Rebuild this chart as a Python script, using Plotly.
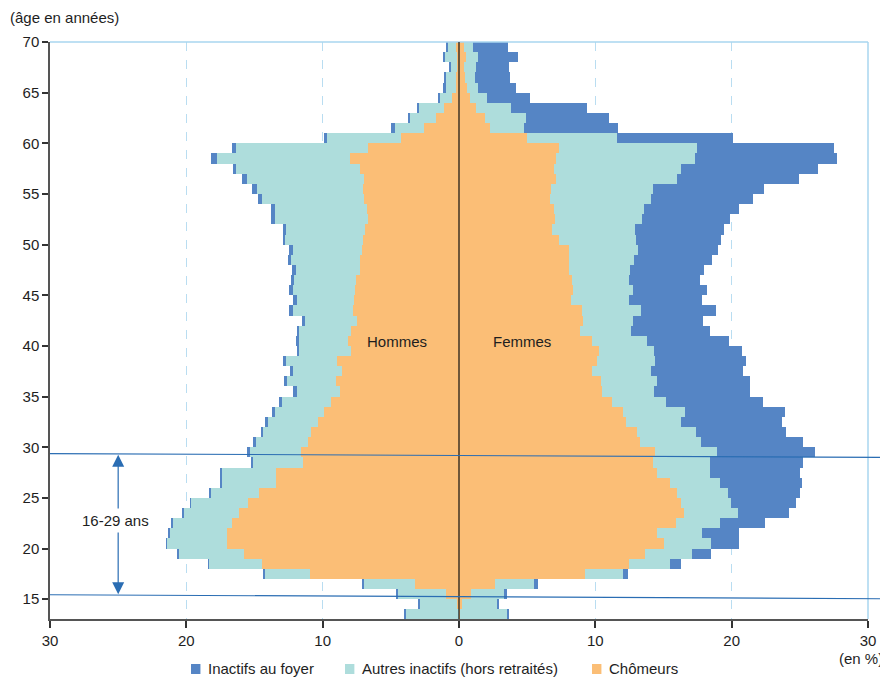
import plotly.graph_objects as go

# Ages (lower edge of each one-year bar), from 13 to 69
ages = list(range(13, 70))

# Hommes (% of age group)
h_chomeurs = [0.00, 0.15, 0.95, 3.23, 10.93, 14.45, 15.77, 17.02, 17.02, 16.65,
              16.14, 15.48, 14.67, 13.42, 13.42, 11.44, 11.59, 11.08, 10.86, 10.34,
              9.90, 9.39, 8.73, 9.02, 8.58, 8.95, 7.92, 8.14, 7.92, 7.48,
              7.78, 7.70, 7.63, 7.55, 7.26, 7.26, 7.11, 7.04, 6.90, 6.67,
              6.75, 6.97, 7.04, 6.97, 7.26, 8.00, 6.67, 4.25, 2.57, 1.69,
              1.10, 0.51, 0.22, 0.22, 0.17, 0.17, 0.22]
h_autres = [3.94, 2.76, 3.55, 3.77, 3.37, 3.89, 4.77, 4.40, 4.25, 4.40,
            4.10, 4.18, 3.52, 3.96, 3.96, 3.67, 3.74, 3.81, 3.52, 3.67,
            3.60, 3.59, 3.15, 3.60, 3.60, 3.74, 3.82, 3.60, 3.82, 3.82,
            4.40, 4.18, 4.55, 4.55, 4.70, 5.06, 5.07, 5.72, 5.79, 6.83,
            6.75, 7.48, 7.78, 8.58, 9.10, 9.75, 9.69, 5.43, 2.12, 1.90,
            1.83, 0.88, 0.73, 0.73, 0.39, 0.86, 0.59]
h_foyer = [0.05, 0.05, 0.05, 0.05, 0.10, 0.07, 0.14, 0.07, 0.07, 0.07,
           0.08, 0.07, 0.15, 0.15, 0.15, 0.15, 0.22, 0.22, 0.14, 0.22,
           0.22, 0.22, 0.30, 0.22, 0.22, 0.22, 0.14, 0.22, 0.14, 0.22,
           0.29, 0.30, 0.29, 0.22, 0.29, 0.22, 0.29, 0.15, 0.22, 0.29,
           0.29, 0.29, 0.36, 0.37, 0.22, 0.44, 0.29, 0.22, 0.30, 0.18,
           0.15, 0.17, 0.22, 0.15, 0.17, 0.14, 0.14]

# Femmes (% of age group)
f_chomeurs = [0.05, 0.22, 0.88, 2.64, 9.24, 12.47, 13.64, 15.04, 14.52, 15.92,
              16.50, 16.28, 16.00, 15.48, 14.52, 14.23, 14.38, 13.28, 13.06, 12.25,
              12.03, 11.22, 10.49, 10.42, 9.76, 10.12, 10.27, 9.76, 8.88, 9.10,
              9.02, 8.22, 8.36, 8.29, 8.07, 8.07, 8.07, 7.33, 6.82, 7.04,
              6.97, 6.67, 6.75, 7.11, 6.97, 7.11, 7.33, 4.99, 2.27, 1.91,
              1.25, 0.81, 0.59, 0.44, 0.37, 0.51, 0.37]
f_autres = [3.54, 2.57, 2.42, 2.86, 2.79, 3.01, 3.45, 3.44, 3.30, 3.22,
            3.96, 3.67, 3.73, 3.66, 3.89, 4.18, 4.54, 4.47, 4.32, 4.03,
            4.55, 3.96, 3.81, 4.10, 4.32, 4.26, 4.03, 4.03, 3.74, 3.66,
            4.33, 4.25, 4.40, 4.18, 4.47, 4.77, 5.06, 5.65, 6.09, 6.38,
            6.60, 7.41, 7.48, 8.88, 9.31, 10.20, 10.13, 6.60, 2.50, 3.00,
            2.56, 1.24, 0.80, 0.73, 0.88, 0.88, 0.66]
f_foyer = [0.03, 0.14, 0.22, 0.29, 0.37, 0.80, 1.39, 2.06, 2.72, 3.30,
           3.75, 4.77, 5.28, 6.02, 6.60, 6.82, 7.19, 7.48, 6.61, 7.41,
           7.33, 7.12, 7.04, 6.82, 6.75, 6.67, 6.46, 6.01, 5.79, 5.14,
           5.50, 5.35, 5.43, 5.21, 5.43, 5.72, 5.87, 6.24, 6.53, 6.46,
           6.97, 7.48, 8.14, 8.95, 10.05, 10.42, 10.04, 8.51, 6.89, 6.09,
           5.58, 3.16, 2.79, 2.57, 2.42, 2.94, 2.56]

x_ticks = [-30, -20, -10, 0, 10, 20, 30]
x_ticktext = ["30", "20", "10", "0", "10", "20", "30"]
y_ticks = [15, 20, 25, 30, 35, 40, 45, 50, 55, 60, 65, 70]

legend_names = ["Inactifs au foyer", "Autres inactifs (hors retraités)", "Chômeurs"]

C_FOYER = "#5585c5"
C_AUTRES = "#aedddc"
C_CHOM = "#fbbe76"
FONT = "Liberation Sans Narrow, Liberation Sans, Arial, sans-serif"
TXT = "#1e1e1e"

fig = go.Figure()

series = [
    ("Chômeurs", C_CHOM, h_chomeurs, f_chomeurs),
    ("Autres inactifs (hors retraités)", C_AUTRES, h_autres, f_autres),
    ("Inactifs au foyer", C_FOYER, h_foyer, f_foyer),
]

for name, color, hv, fv in series:
    fig.add_trace(go.Bar(
        y=ages, x=[-v for v in hv], orientation="h", name=name,
        marker=dict(color=color, line=dict(width=0)),
        width=1, offset=0, showlegend=False, hoverinfo="skip"))
    fig.add_trace(go.Bar(
        y=ages, x=fv, orientation="h", name=name,
        marker=dict(color=color, line=dict(width=0)),
        width=1, offset=0, showlegend=False, hoverinfo="skip"))

line_col = "#2a6db3"
shapes = [
    dict(type="line", xref="paper", yref="paper", x0=0, x1=1, y0=1, y1=1,
         line=dict(color="#a9d6ef", width=1.5), layer="above"),
    dict(type="line", xref="paper", yref="paper", x0=1, x1=1, y0=0, y1=1,
         line=dict(color="#a9d6ef", width=1.5), layer="above"),
    dict(type="line", xref="x", yref="paper", x0=0, x1=0, y0=0, y1=1,
         line=dict(color="#111111", width=1.2), layer="above"),
    dict(type="line", xref="paper", yref="y", x0=0, x1=1.026, y0=29.37, y1=29.0,
         line=dict(color=line_col, width=1.1), layer="above"),
    dict(type="line", xref="paper", yref="y", x0=0, x1=1.026, y0=15.45, y1=15.05,
         line=dict(color=line_col, width=1.1), layer="above"),
]

annotations = [
    dict(x=-25, y=29.25, ax=-25, ay=22.7, xref="x", yref="y", axref="x", ayref="y",
         text="", showarrow=True, arrowhead=2, arrowsize=2, arrowwidth=1.2,
         arrowcolor=line_col),
    dict(x=-25, y=15.5, ax=-25, ay=22.7, xref="x", yref="y", axref="x", ayref="y",
         text="", showarrow=True, arrowhead=2, arrowsize=2, arrowwidth=1.2,
         arrowcolor=line_col),
    dict(x=-25.2, y=22.75, xref="x", yref="y", text="16-29 ans", showarrow=False,
         bgcolor="white", font=dict(size=15, color=TXT), borderpad=3),
    dict(x=-4.55, y=40.4, xref="x", yref="y", text="Hommes", showarrow=False,
         font=dict(size=15, color=TXT)),
    dict(x=4.6, y=40.4, xref="x", yref="y", text="Femmes", showarrow=False,
         font=dict(size=15, color=TXT)),
    dict(x=-0.0513, y=1.043, xref="paper", yref="paper", text="(âge en années)",
         showarrow=False, xanchor="left", yanchor="middle",
         font=dict(size=15, color=TXT)),
    dict(x=1.021, y=-0.068, xref="paper", yref="paper", text="(en %)",
         showarrow=False, xanchor="right", yanchor="middle",
         font=dict(size=15, color=TXT)),
]

# manual legend (squares + labels) below the plot
leg_x = [0.1724, 0.3606, 0.6626]
leg_colors = [C_FOYER, C_AUTRES, C_CHOM]
sq_w = 0.0115
for lx, lc, ln in zip(leg_x, leg_colors, legend_names):
    shapes.append(dict(type="rect", xref="paper", yref="paper",
                       x0=lx, x1=lx + sq_w, y0=-0.0953, y1=-0.0780,
                       fillcolor=lc, line=dict(width=0)))
    annotations.append(dict(x=lx + sq_w + 0.007, y=-0.0855, xref="paper", yref="paper",
                            text=ln, showarrow=False, xanchor="left", yanchor="middle",
                            font=dict(size=15, color=TXT)))

fig.update_layout(
    width=880, height=669,
    margin=dict(l=42, r=20, t=34, b=58),
    paper_bgcolor="white", plot_bgcolor="white",
    barmode="relative", bargap=0,
    font=dict(family=FONT, size=15, color=TXT),
    shapes=shapes, annotations=annotations,
    showlegend=False,
    xaxis=dict(range=[-30, 30], tickvals=x_ticks, ticktext=x_ticktext,
               showgrid=True, gridcolor="#b9ddf1", griddash="dash", gridwidth=1,
               zeroline=False, showline=True, linecolor="#555", linewidth=1.5,
               ticks="outside", ticklen=7, tickcolor="#333", tickwidth=1.5,
               automargin=False, fixedrange=True),
    yaxis=dict(range=[13.05, 70], tickvals=y_ticks, showgrid=False, zeroline=False,
               showline=True, linecolor="#555", linewidth=1.5,
               ticks="outside", ticklen=6, tickcolor="#333", tickwidth=1.5,
               automargin=False, fixedrange=True),
)

fig.write_html("out.html")
